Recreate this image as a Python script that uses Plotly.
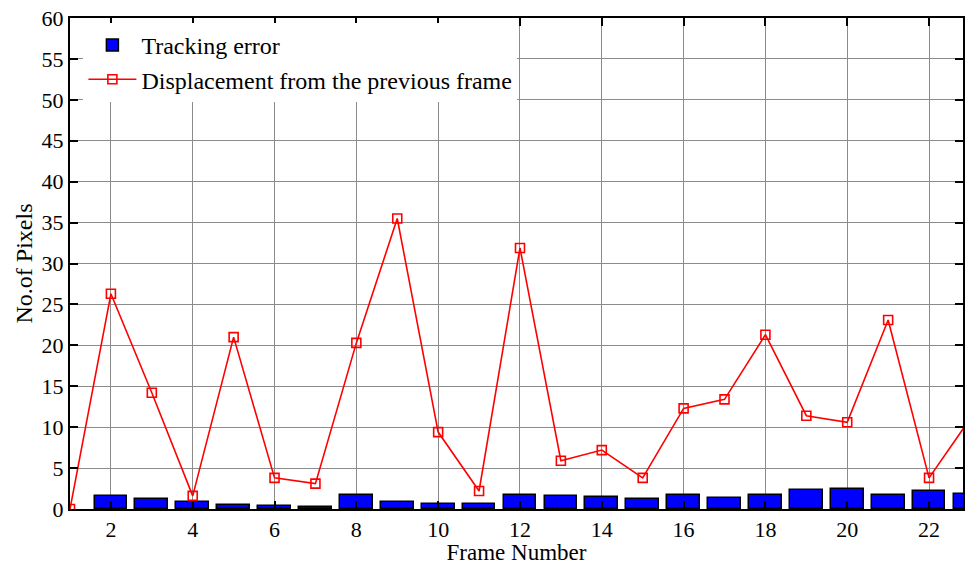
import plotly.graph_objects as go

# Frame indices and measured quantities (pixels)
frames_disp = list(range(1, 24))
displacement = [0.0, 26.3, 14.2, 1.6, 21.0, 3.8, 3.1, 20.3, 35.5, 9.4, 2.2, 31.9,
                 5.9, 7.2, 3.8, 12.3, 13.4, 21.3, 11.4, 10.6, 23.1, 3.8, 11.0]

frames_err = list(range(2, 24))
tracking_error = [1.6, 1.26, 0.85, 0.53, 0.4, 0.28, 1.7, 0.9, 0.57, 0.6, 1.7,
                  1.6, 1.46, 1.22, 1.77, 1.3, 1.75, 2.3, 2.45, 1.75, 2.15, 1.83]

x_ticks = list(range(2, 23, 2))
y_ticks = list(range(0, 61, 5))

FONT = "Liberation Serif"

fig = go.Figure()
fig.add_trace(go.Bar(
    x=frames_err, y=tracking_error, name="Tracking error", width=0.8,
    marker=dict(color="#0000ff", line=dict(color="black", width=1.5)),
))
fig.add_trace(go.Scatter(
    x=frames_disp, y=displacement, name="Displacement from the previous frame",
    mode="lines+markers",
    line=dict(color="#ff0000", width=1.6),
    marker=dict(symbol="square-open", size=9, color="#ff0000", line=dict(width=1.6)),
    cliponaxis=True,
))

axis_common = dict(
    showline=True, linecolor="black", linewidth=2, mirror="ticks",
    ticks="inside", ticklen=8, tickwidth=1.5, tickcolor="black",
    showgrid=True, gridcolor="#8c8c8c", gridwidth=1, zeroline=False,
    tickfont=dict(family=FONT, size=22, color="black"),
)

fig.update_xaxes(range=[1, 22.83], tickvals=x_ticks, ticklabelstandoff=0,
                 title_text="Frame Number", title_standoff=0,
                 title_font=dict(family=FONT, size=23, color="black"),
                 **axis_common)
fig.update_yaxes(range=[0, 60], tickvals=y_ticks, title_text="No.of Pixels",
                 title_standoff=2,
                 title_font=dict(family=FONT, size=24, color="black"),
                 **axis_common)

fig.update_layout(
    width=965, height=565,
    margin=dict(l=70, r=0, t=18, b=56),
    plot_bgcolor="white", paper_bgcolor="white",
    bargap=0,
    showlegend=True,
    font=dict(family=FONT),
    legend=dict(x=0.015, y=0.99, xanchor="left", yanchor="top",
                bgcolor="white", borderwidth=0,
                font=dict(family=FONT, size=24, color="black"),
                itemwidth=48, tracegroupgap=2),
)

fig.write_html("out.html")
